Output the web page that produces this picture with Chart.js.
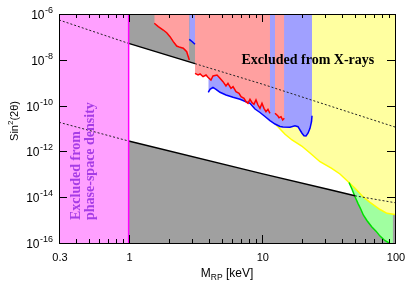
<!DOCTYPE html>
<html>
<head>
<meta charset="utf-8">
<script src="https://cdn.jsdelivr.net/npm/chart.js@4.4.0/dist/chart.umd.min.js"></script>
<style>
html, body { margin: 0; padding: 0; background: #fff; }
#wrap { width: 415px; height: 291px; position: relative; }
</style>
</head>
<body>
<div id="wrap"><canvas id="myChart"></canvas></div>
<script>
// axis ticks
var xTicks = [0.3, 1, 10, 100];
var xTickLabels = ['0.3', '1', '10', '100'];
var xMinorTicks = [0.4, 0.5, 0.6, 0.7, 0.8, 0.9, 2, 3, 4, 5, 6, 7, 8, 9, 20, 30, 40, 50, 60, 70, 80, 90];
var yTicks = [1e-6, 1e-8, 1e-10, 1e-12, 1e-14, 1e-16];
var yTickExp = ['-6', '-8', '-10', '-12', '-14', '-16'];

// curves: [mass in keV, sin^2(2 theta)]
var upperLine = [[0.3, 5.5e-7], [1, 5.2e-8], [3.15, 6.8e-9], [10, 8.8e-10], [100, 1.16e-11]];
var lowerLine = [[0.3, 1.87e-11], [1, 2.84e-12], [10, 1.07e-13], [32.5, 2.1e-14], [50, 1.15e-14], [100, 5.75e-15]];
var phaseSpaceTop = [[0.3, 1e-6], [1, 1e-6]];

var redEdge1 = [[1.558, 3.93e-7], [1.67, 2.79e-7], [1.82, 2.0e-7], [1.931, 1.52e-7], [2.045, 1.02e-7],
  [2.164, 6.2e-8], [2.296, 4.0e-8], [2.431, 3.5e-8], [2.573, 3.2e-8], [2.729, 2.26e-8], [2.805, 1.36e-8], [2.854, 9.8e-9]];
var blueEdgeA = [[2.854, 7.85e-8], [2.99, 6.3e-8], [3.15, 4.75e-8]];
var redEdge2 = [[3.15, 2.57e-9], [3.32, 2.17e-9], [3.44, 2.40e-9], [3.62, 1.83e-9], [3.81, 2.17e-9], [3.94, 1.72e-9],
  [4.15, 1.31e-9], [4.30, 1.96e-9], [4.61, 2.17e-9], [4.85, 1.56e-9], [5.11, 1.11e-9], [5.38, 7.2e-10],
  [5.57, 9.4e-10], [5.87, 5.7e-10], [6.08, 6.7e-10], [6.40, 4.05e-10], [6.74, 3.44e-10], [6.98, 2.45e-10],
  [7.35, 2.08e-10], [7.61, 1.48e-10], [7.87, 1.26e-10], [8.15, 1.88e-10], [8.44, 1.34e-10], [8.73, 1.14e-10],
  [9.04, 1.76e-10], [9.36, 1.06e-10], [9.69, 7.6e-11], [10.03, 1.26e-10], [10.38, 7.6e-11], [10.75, 5.4e-11],
  [11.12, 6.9e-11], [11.51, 4.6e-11]];
var redEdge3 = [[12.56, 4.61e-11], [13.16, 3.62e-11], [13.46, 2.96e-11], [13.94, 3.28e-11], [14.35, 2.35e-11], [14.75, 2.79e-11]];
var blueEdgeB = [[3.964, 3.81e-10], [4.083, 5.15e-10], [4.299, 6.3e-10], [4.528, 5.15e-10], [4.853, 3.81e-10],
  [5.383, 2.9e-10], [6.076, 2.3e-10], [6.858, 1.88e-10], [7.607, 1.48e-10], [8.151, 1.26e-10], [8.886, 7.1e-11],
  [9.687, 5.0e-11], [10.56, 3.34e-11], [11.51, 2.23e-11], [12.56, 1.57e-11], [13.69, 1.22e-11], [14.43, 1.16e-11],
  [16.28, 1.13e-11], [17.74, 1.32e-11], [18.70, 1.2e-11], [19.35, 8.6e-12], [20.03, 6.2e-12], [20.74, 4.85e-12],
  [21.47, 4.7e-12], [22.22, 6.2e-12], [23.0, 1.02e-11], [23.61, 1.98e-11], [23.82, 3.62e-11]];
var yellowEdge = [[12.78, 1.45e-11], [14.94, 5.6e-12], [16.85, 3.15e-12], [19.93, 1.72e-12], [23.0, 8.5e-13],
  [27.35, 3.55e-13], [33.48, 1.83e-13], [38.6, 1.03e-13], [45.15, 4.39e-14], [50.1, 2.45e-14], [57.5, 1.05e-14],
  [64.9, 5.9e-15], [77.2, 2.9e-15], [87.1, 1.98e-15], [100, 1.76e-15]];
var greenEdge = [[45.15, 4.39e-14], [47.5, 2.28e-14], [50.1, 1.05e-14], [52.7, 5.4e-15], [55.5, 2.9e-15],
  [57.8, 1.67e-15], [61.5, 9.6e-16], [66.8, 5.15e-16], [72, 3.3e-16], [77.2, 2.0e-16], [83, 1.35e-16], [90, 1e-16]];
var grayStrip = [[96.1, 1.8e-15], [100, 1.76e-15]];

function pts(list) { return list.map(function (p) { return { x: p[0], y: p[1] }; }); }
function between(list, lo, hi) { return list.filter(function (p) { return p[0] >= lo && p[0] <= hi; }); }
function area(list, fill, color) {
    return { data: pts(list), fill: fill, backgroundColor: color, borderColor: 'rgba(0,0,0,0)', borderWidth: 0, pointRadius: 0 };
}
function curve(list, color, width, dash) {
    return { data: pts(list), fill: false, borderColor: color, borderWidth: width, borderDash: dash || [], pointRadius: 0 };
}

var gray = '#a0a0a0', pink = '#ffa0a0', blue = '#a0a0ff';
var layers = [
    area(phaseSpaceTop, 'start', '#ffa0ff'),
    area(yellowEdge, 'end', '#ffffa0'),
    area(between(yellowEdge, 45.15, 100), 'start', '#a0ffa0'),
    area(greenEdge, 'start', '#ffffff'),
    area(between(lowerLine, 1, 50).concat(between(greenEdge, 50.05, 100)), 'start', gray),
    area(grayStrip, 'start', gray),
    area(between(upperLine, 1, 3.15), 'end', gray),
    area(blueEdgeA, 'end', blue),
    area(blueEdgeB, 'end', blue),
    area(redEdge1, 'end', pink),
    area(redEdge2, 'end', pink),
    area(redEdge3, 'end', pink),
    curve(yellowEdge, '#ffff00', 1.5),
    curve(greenEdge, '#00e000', 1.5),
    curve(blueEdgeA, '#0000ff', 1.5),
    curve(blueEdgeB, '#0000ff', 1.5),
    curve(redEdge1, '#ff0000', 1.5),
    curve(redEdge2, '#ff0000', 1.5),
    curve(redEdge3, '#ff0000', 1.5),
    curve(between(upperLine, 0.3, 1), '#222', 1, [2, 2]),
    curve(between(upperLine, 1, 3.15), '#000', 1.5),
    curve(between(upperLine, 3.15, 100), '#222', 1, [2, 2]),
    curve(between(lowerLine, 0.3, 1), '#222', 1, [2, 2]),
    curve(between(lowerLine, 1, 50), '#000', 1.5),
    curve(between(lowerLine, 50, 100), '#222', 1, [2, 2]),
    curve([[1, 1e-16], [1, 1e-6]], '#ff00ff', 1.5)
];
layers.forEach(function (d, i) { d.order = layers.length - i; });

var decorations = {
    id: 'decorations',
    afterDraw: function (chart) {
        var c = chart.ctx, a = chart.chartArea;
        var xs = chart.scales.x, ys = chart.scales.y;
        c.save();
        c.strokeStyle = '#000';
        c.lineWidth = 1;
        c.strokeRect(a.left + 0.5, a.top + 0.5, a.right - a.left, a.bottom - a.top);
        function seg(x1, y1, x2, y2) { c.beginPath(); c.moveTo(x1, y1); c.lineTo(x2, y2); c.stroke(); }
        xMinorTicks.forEach(function (v) {
            var px = Math.round(xs.getPixelForValue(v)) + 0.5;
            seg(px, a.bottom, px, a.bottom - 4);
            seg(px, a.top, px, a.top + 4);
        });
        xTicks.forEach(function (v) {
            var px = Math.round(xs.getPixelForValue(v)) + 0.5;
            seg(px, a.bottom, px, a.bottom - 8);
            seg(px, a.top, px, a.top + 8);
        });
        yTicks.forEach(function (v) {
            var py = Math.round(ys.getPixelForValue(v)) + 0.5;
            seg(a.left, py, a.left + 8, py);
            seg(a.right, py, a.right - 8, py);
        });

        c.fillStyle = '#000';
        c.textBaseline = 'alphabetic';
        c.font = '11px "Liberation Sans", Arial, sans-serif';
        c.textAlign = 'center';
        xTicks.forEach(function (v, i) {
            c.fillText(xTickLabels[i], xs.getPixelForValue(v) + 1, 260.5);
        });
        yTicks.forEach(function (v, i) {
            var py = ys.getPixelForValue(v);
            c.font = '9px "Liberation Sans", Arial, sans-serif';
            var we = c.measureText(yTickExp[i]).width;
            c.font = '12px "Liberation Sans", Arial, sans-serif';
            var wb = c.measureText('10').width;
            c.textAlign = 'left';
            c.fillText('10', 53 - we - wb - 0.5, py + 5);
            c.font = '9px "Liberation Sans", Arial, sans-serif';
            c.fillText(yTickExp[i], 53 - we, py - 1);
        });

        // x axis title
        c.font = '12px "Liberation Sans", Arial, sans-serif';
        var w1 = c.measureText('M').width, w3 = c.measureText(' [keV]').width;
        c.font = '8.5px "Liberation Sans", Arial, sans-serif';
        var w2 = c.measureText('RP').width;
        var x0 = (a.left + a.right) / 2 - (w1 + w2 + w3) / 2;
        c.textAlign = 'left';
        c.font = '12px "Liberation Sans", Arial, sans-serif';
        c.fillText('M', x0, 277);
        c.fillText(' [keV]', x0 + w1 + w2, 277);
        c.font = '8.5px "Liberation Sans", Arial, sans-serif';
        c.fillText('RP', x0 + w1, 280);

        // y axis title
        c.save();
        c.translate(18, 121);
        c.rotate(-Math.PI / 2);
        c.font = '11px "Liberation Sans", Arial, sans-serif';
        var s1 = c.measureText('Sin').width, s3 = c.measureText('(2\u03b8)').width;
        c.font = '8px "Liberation Sans", Arial, sans-serif';
        var s2 = c.measureText('2').width;
        var t0 = -(s1 + s2 + s3) / 2;
        c.font = '11px "Liberation Sans", Arial, sans-serif';
        c.fillText('Sin', t0, 0);
        c.fillText('(2\u03b8)', t0 + s1 + s2, 0);
        c.font = '8px "Liberation Sans", Arial, sans-serif';
        c.fillText('2', t0 + s1, -5);
        c.restore();

        // region labels
        c.font = 'bold 14px "Liberation Serif", "Times New Roman", serif';
        c.fillStyle = '#000';
        c.fillText('Excluded from X-rays', 241.5, 64);
        c.fillStyle = '#a63ce6';
        c.save();
        c.translate(80, 220);
        c.rotate(-Math.PI / 2);
        c.fillText('Excluded from', 0, 0);
        c.restore();
        c.save();
        c.translate(93.5, 220);
        c.rotate(-Math.PI / 2);
        c.fillText('phase-space density', 0, 0);
        c.restore();
        c.restore();
    }
};

var ctx = document.getElementById('myChart').getContext('2d');
var myChart = new Chart(ctx, {
    type: 'line',
    data: { datasets: layers },
    options: {
        responsive: true,
        maintainAspectRatio: false,
        animation: false,
        events: [],
        layout: { padding: { left: 59, right: 20, top: 14, bottom: 48 } },
        plugins: { legend: { display: false }, tooltip: { enabled: false } },
        scales: {
            x: { type: 'logarithmic', min: 0.3, max: 100, display: false },
            y: { type: 'logarithmic', min: 1e-16, max: 1e-6, display: false }
        }
    },
    plugins: [decorations]
});
</script>
</body>
</html>
